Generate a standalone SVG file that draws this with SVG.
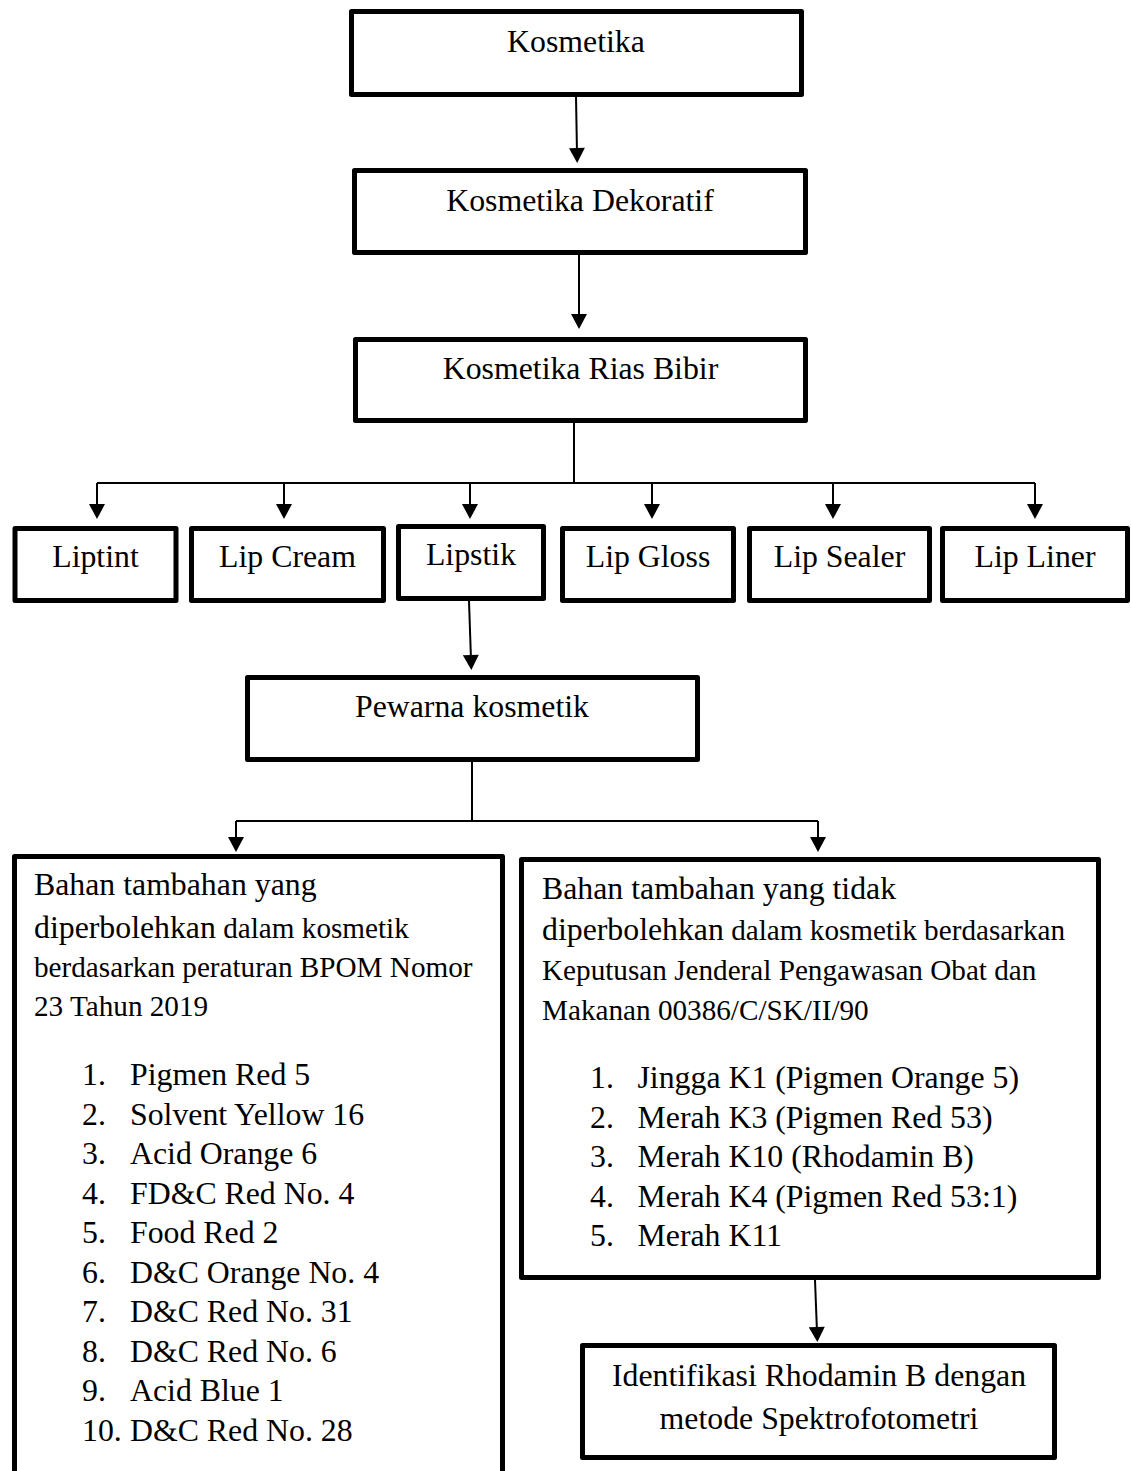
<svg xmlns="http://www.w3.org/2000/svg" width="1131" height="1471" viewBox="0 0 1131 1471">
<style>
.box{fill:#fff;stroke:#000;stroke-width:5;stroke-linejoin:round}
.t{font-family:"Liberation Serif","Times New Roman",serif;font-size:31.8px;fill:#000}
.c{text-anchor:middle}
.s{font-size:29.2px}
.ln{fill:none;stroke:#000;stroke-width:2}
.ar{fill:none;stroke:#000;stroke-width:2;marker-end:url(#ah)}
</style>
<defs>
<marker id="ah" markerUnits="userSpaceOnUse" markerWidth="16" markerHeight="16" viewBox="0 0 15 16" refX="5" refY="8" orient="auto">
<path d="M0,0 L15,8 L0,16 z" fill="#000"/>
</marker>
</defs>
<rect width="1131" height="1471" fill="#fff"/>

<g id="connectors">
<line class="ar" x1="576" y1="97" x2="577" y2="153"/>
<line class="ar" x1="579" y1="255" x2="579" y2="319"/>
<polyline class="ln" points="574,423 574,483"/>
<line class="ln" x1="97" y1="483" x2="1035" y2="483"/>
<line class="ar" x1="97" y1="483" x2="97" y2="509"/>
<line class="ar" x1="284" y1="483" x2="284" y2="509"/>
<line class="ar" x1="470" y1="483" x2="470" y2="509"/>
<line class="ar" x1="652" y1="483" x2="652" y2="509"/>
<line class="ar" x1="833" y1="483" x2="833" y2="509"/>
<line class="ar" x1="1035" y1="483" x2="1035" y2="509"/>
<line class="ar" x1="469" y1="601" x2="471" y2="660"/>
<line class="ln" x1="472" y1="762" x2="472" y2="821"/>
<line class="ln" x1="236" y1="821" x2="818" y2="821"/>
<line class="ar" x1="236" y1="821" x2="236" y2="842"/>
<line class="ar" x1="818" y1="821" x2="818" y2="842"/>
<line class="ar" x1="815" y1="1280" x2="817" y2="1332"/>
</g>

<g id="kosmetika">
<rect class="box" x="351.5" y="11.5" width="450" height="83"/>
<text class="t c" x="576" y="52">Kosmetika</text>
</g>
<g id="kosmetika-dekoratif">
<rect class="box" x="354.5" y="170.5" width="451" height="82"/>
<text class="t c" x="580" y="211">Kosmetika Dekoratif</text>
</g>
<g id="kosmetika-rias-bibir">
<rect class="box" x="355.5" y="339.5" width="450" height="81"/>
<text class="t c" x="580.5" y="379">Kosmetika Rias Bibir</text>
</g>

<g id="liptint">
<rect class="box" x="15" y="528.5" width="161" height="72"/>
<text class="t c" x="95.5" y="567">Liptint</text>
</g>
<g id="lip-cream">
<rect class="box" x="191.5" y="528.5" width="192" height="72"/>
<text class="t c" x="287.5" y="567">Lip Cream</text>
</g>
<g id="lipstik">
<rect class="box" x="398.5" y="526.5" width="145" height="72"/>
<text class="t c" x="471" y="565">Lipstik</text>
</g>
<g id="lip-gloss">
<rect class="box" x="562.5" y="528.5" width="171" height="72"/>
<text class="t c" x="648" y="567">Lip Gloss</text>
</g>
<g id="lip-sealer">
<rect class="box" x="749.5" y="528.5" width="180" height="72"/>
<text class="t c" x="839.5" y="567">Lip Sealer</text>
</g>
<g id="lip-liner">
<rect class="box" x="942.5" y="528.5" width="185" height="72"/>
<text class="t c" x="1035" y="567">Lip Liner</text>
</g>

<g id="pewarna-kosmetik">
<rect class="box" x="247.5" y="677.5" width="450" height="82"/>
<text class="t c" x="472" y="717">Pewarna kosmetik</text>
</g>

<g id="diperbolehkan">
<rect class="box" x="14.5" y="856.5" width="488" height="700"/>
<text class="t" x="34" y="895">Bahan tambahan yang</text>
<text class="t" x="34" y="938">diperbolehkan<tspan class="s"> dalam kosmetik</tspan></text>
<text class="t s" x="34" y="977">berdasarkan peraturan BPOM Nomor</text>
<text class="t s" x="34" y="1016">23 Tahun 2019</text>
<text class="t" x="82" y="1085">1.</text><text class="t" x="130" y="1085">Pigmen Red 5</text>
<text class="t" x="82" y="1124.5">2.</text><text class="t" x="130" y="1124.5">Solvent Yellow 16</text>
<text class="t" x="82" y="1164">3.</text><text class="t" x="130" y="1164">Acid Orange 6</text>
<text class="t" x="82" y="1203.5">4.</text><text class="t" x="130" y="1203.5">FD&amp;C Red No. 4</text>
<text class="t" x="82" y="1243">5.</text><text class="t" x="130" y="1243">Food Red 2</text>
<text class="t" x="82" y="1282.5">6.</text><text class="t" x="130" y="1282.5">D&amp;C Orange No. 4</text>
<text class="t" x="82" y="1322">7.</text><text class="t" x="130" y="1322">D&amp;C Red No. 31</text>
<text class="t" x="82" y="1361.5">8.</text><text class="t" x="130" y="1361.5">D&amp;C Red No. 6</text>
<text class="t" x="82" y="1401">9.</text><text class="t" x="130" y="1401">Acid Blue 1</text>
<text class="t" x="82" y="1440.5">10.</text><text class="t" x="130" y="1440.5">D&amp;C Red No. 28</text>
</g>

<g id="tidak-diperbolehkan">
<rect class="box" x="521.5" y="859.5" width="577" height="418"/>
<text class="t" x="542" y="899">Bahan tambahan yang tidak</text>
<text class="t" x="542" y="940">diperbolehkan<tspan class="s"> dalam kosmetik berdasarkan</tspan></text>
<text class="t s" x="542" y="980">Keputusan Jenderal Pengawasan Obat dan</text>
<text class="t s" x="542" y="1020">Makanan 00386/C/SK/II/90</text>
<text class="t" x="590" y="1088">1.</text><text class="t" x="637.5" y="1088">Jingga K1 (Pigmen Orange 5)</text>
<text class="t" x="590" y="1128">2.</text><text class="t" x="637.5" y="1128">Merah K3 (Pigmen Red 53)</text>
<text class="t" x="590" y="1167">3.</text><text class="t" x="637.5" y="1167">Merah K10 (Rhodamin B)</text>
<text class="t" x="590" y="1207">4.</text><text class="t" x="637.5" y="1207">Merah K4 (Pigmen Red 53:1)</text>
<text class="t" x="590" y="1246">5.</text><text class="t" x="637.5" y="1246">Merah K11</text>
</g>

<g id="identifikasi">
<rect class="box" x="582.5" y="1345.5" width="472" height="112"/>
<text class="t c" x="819" y="1386">Identifikasi Rhodamin B dengan</text>
<text class="t c" x="819" y="1429">metode Spektrofotometri</text>
</g>
</svg>
